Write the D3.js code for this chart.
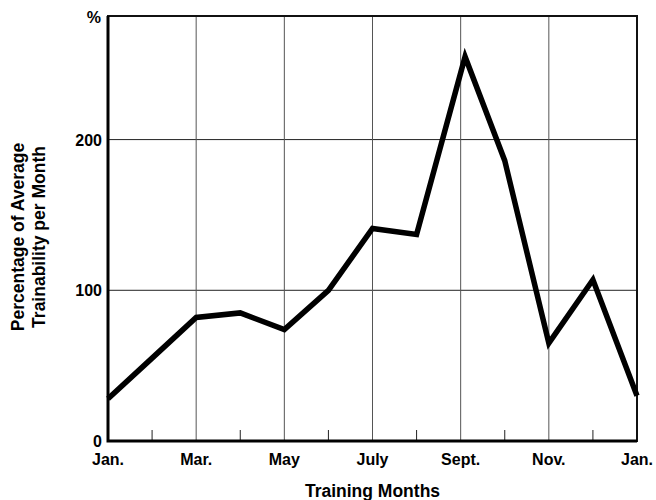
<!DOCTYPE html>
<html>
<head>
<meta charset="utf-8">
<script src="https://cdn.jsdelivr.net/npm/d3@7"></script>
<style>
  body { margin: 0; background: #fff; }
  text { font-family: "Liberation Sans", Arial, Helvetica, sans-serif; font-weight: bold; fill: #000; }
</style>
</head>
<body>
<div id="chart"></div>
<script>
// month index (0 = Jan., 12 = following Jan.) and trainability %
var months = [0, 1, 2, 3, 4, 5, 6, 7, 8.1, 9, 10, 11, 12];
var trainability = [28, 55, 82, 85, 74, 100, 141, 137, 255, 186, 65, 107, 30];

var month_labels = ["Jan.", "Mar.", "May", "July", "Sept.", "Nov.", "Jan."];
var month_label_pos = [0, 2, 4, 6, 8, 10, 12];
var minor_ticks = [1, 3, 5, 7, 9, 11];
var y_ticks = [0, 100, 200];

var chart = {
  width: 656,
  height: 500,
  left: 108,
  right: 637,
  top: 16,
  bottom: 441
};

var svg = d3.select("#chart").append("svg")
  .attr("width", chart.width)
  .attr("height", chart.height);

var x = d3.scaleLinear().domain([0, 12]).range([chart.left, chart.right]);
var y = d3.scaleLinear().domain([0, 282]).range([chart.bottom, chart.top]);

// horizontal grid
svg.append("g")
  .selectAll("line")
  .data(y_ticks.filter(function(d) { return d > 0; }))
  .enter().append("line")
  .attr("x1", chart.left).attr("x2", chart.right)
  .attr("y1", function(d) { return y(d); })
  .attr("y2", function(d) { return y(d); })
  .style("stroke", "#222")
  .style("stroke-width", 1);

// vertical grid at labelled months
svg.append("g")
  .selectAll("line")
  .data(month_label_pos.slice(1, -1))
  .enter().append("line")
  .attr("x1", function(d) { return x(d); })
  .attr("x2", function(d) { return x(d); })
  .attr("y1", chart.top).attr("y2", chart.bottom)
  .style("stroke", "#555")
  .style("stroke-width", 1);

// minor ticks
svg.append("g")
  .selectAll("line")
  .data(minor_ticks)
  .enter().append("line")
  .attr("x1", function(d) { return x(d); })
  .attr("x2", function(d) { return x(d); })
  .attr("y1", chart.bottom - 11).attr("y2", chart.bottom)
  .style("stroke", "#222")
  .style("stroke-width", 1);

// frame
svg.append("rect")
  .attr("x", chart.left).attr("y", chart.top)
  .attr("width", chart.right - chart.left)
  .attr("height", chart.bottom - chart.top)
  .style("fill", "none")
  .style("stroke", "#111")
  .style("stroke-width", 2);

svg.append("path")
  .attr("d", "M" + chart.left + "," + chart.top + "V" + chart.bottom + "H" + chart.right)
  .style("fill", "none")
  .style("stroke", "#000")
  .style("stroke-width", 3);

// data line
var line = d3.line()
  .x(function(d, i) { return x(months[i]); })
  .y(function(d) { return y(d); });

svg.append("path")
  .datum(trainability)
  .attr("d", line)
  .style("fill", "none")
  .style("stroke", "#000")
  .style("stroke-width", 5.5)
  .style("stroke-linejoin", "miter")
  .style("stroke-miterlimit", 10);

// y tick labels
svg.append("g")
  .selectAll("text")
  .data(y_ticks)
  .enter().append("text")
  .attr("x", chart.left - 6)
  .attr("y", function(d) { return y(d) + 6; })
  .attr("text-anchor", "end")
  .style("font-size", "16px")
  .text(function(d) { return d; });

svg.append("text")
  .attr("x", chart.left - 7)
  .attr("y", 23)
  .attr("text-anchor", "end")
  .style("font-size", "16px")
  .text("%");

// x tick labels
svg.append("g")
  .selectAll("text")
  .data(month_label_pos)
  .enter().append("text")
  .attr("x", function(d) { return x(d); })
  .attr("y", 465)
  .attr("text-anchor", "middle")
  .style("font-size", "16px")
  .text(function(d, i) { return month_labels[i]; });

// axis titles
svg.append("text")
  .attr("x", (chart.left + chart.right) / 2)
  .attr("y", 497)
  .attr("text-anchor", "middle")
  .style("font-size", "17.5px")
  .text("Training Months");

var ylab = svg.append("text")
  .attr("transform", "translate(24,237) rotate(-90)")
  .attr("text-anchor", "middle")
  .style("font-size", "17.5px");

ylab.append("tspan").attr("x", 0).attr("dy", 0).text("Percentage of Average");
ylab.append("tspan").attr("x", 0).attr("dy", 21).text("Trainability per Month");
</script>
</body>
</html>
